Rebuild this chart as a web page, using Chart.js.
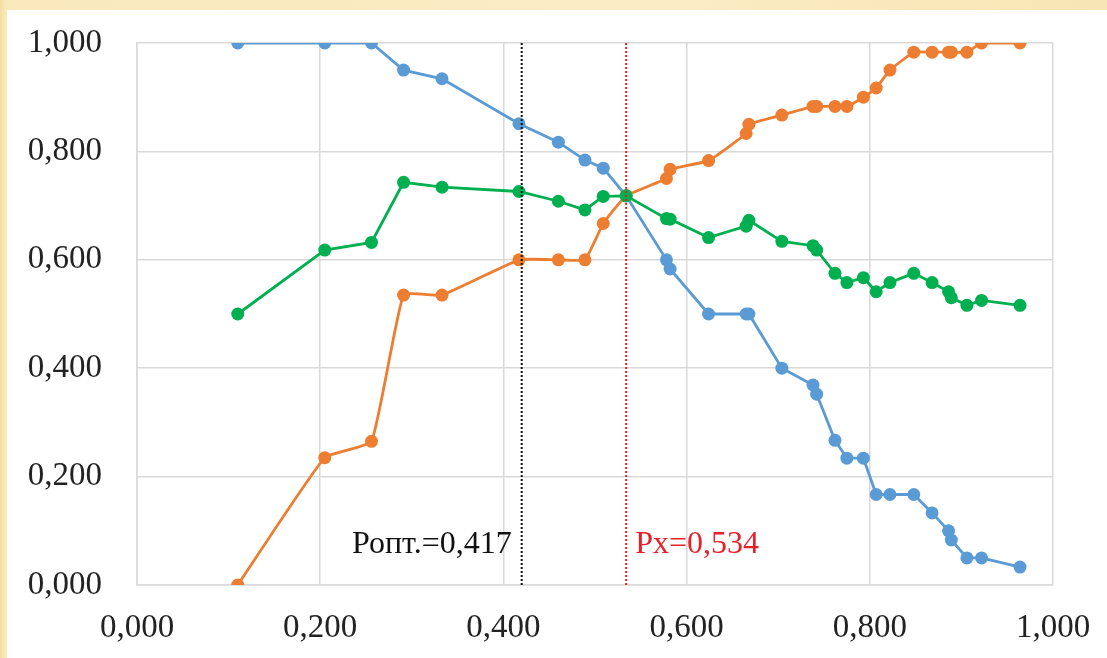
<!DOCTYPE html>
<html>
<head>
<meta charset="utf-8">
<script src="https://cdn.jsdelivr.net/npm/chart.js@4"></script>
<style>
    html, body { margin: 0; padding: 0; }
    body {
        width: 1107px;
        height: 658px;
        position: relative;
        overflow: hidden;
        background: linear-gradient(90deg, #f3dc9c 0px, #f9e9bd 5px, #fbecc4 60%, #f8e5b4 100%);
    }
    #paper { position: absolute; left: 7px; top: 10px; right: 0; bottom: 0; background: #fff; }
    #myChart { position: absolute; left: 0; top: 0; }
</style>
</head>
<body>
<div id="paper"></div>
<canvas id="myChart" width="1107" height="658"></canvas>
<script>
const xValues = [0.110, 0.205, 0.256, 0.291, 0.333, 0.417, 0.460, 0.489, 0.509, 0.534,
    0.578, 0.582, 0.624, 0.665, 0.668, 0.704, 0.738, 0.742, 0.762, 0.775,
    0.793, 0.807, 0.822, 0.848, 0.868, 0.886, 0.889, 0.906, 0.922, 0.964];

const blueValues = [1.000, 1.000, 1.000, 0.950, 0.934, 0.851, 0.817, 0.784, 0.769, 0.718,
    0.600, 0.583, 0.500, 0.500, 0.500, 0.400, 0.369, 0.352, 0.267, 0.234,
    0.234, 0.167, 0.167, 0.167, 0.133, 0.100, 0.083, 0.050, 0.050, 0.033];

const orangeValues = [0.000, 0.235, 0.265, 0.535, 0.535, 0.600, 0.600, 0.600, 0.667, 0.718,
    0.750, 0.767, 0.783, 0.833, 0.850, 0.867, 0.883, 0.883, 0.883, 0.883,
    0.900, 0.917, 0.950, 0.983, 0.983, 0.983, 0.983, 0.983, 1.000, 1.000];

const greenValues = [0.500, 0.618, 0.632, 0.743, 0.734, 0.726, 0.708, 0.692, 0.717, 0.718,
    0.676, 0.675, 0.641, 0.662, 0.673, 0.634, 0.626, 0.618, 0.575, 0.558,
    0.567, 0.541, 0.558, 0.575, 0.558, 0.541, 0.530, 0.516, 0.525, 0.516];

const axisTicks = [0, 0.2, 0.4, 0.6, 0.8, 1.0];

const pOpt = 0.420;
const pOptLabel = 'Ропт.=0,417';
const pX = 0.534;
const pXLabel = 'Рх=0,534';

const fontFamily = '"Liberation Serif", "Times New Roman", serif';

function toPoints(ys) {
    return xValues.map((x, i) => ({ x: x, y: ys[i] }));
}

function fmt(v) {
    return Number(v).toFixed(3).replace('.', ',');
}

// vertical dotted lines with their captions
const markerLines = {
    id: 'markerLines',
    afterDatasetsDraw(chart) {
        const ctx = chart.ctx;
        const area = chart.chartArea;
        const xs = chart.scales.x;
        const ys = chart.scales.y;
        const lines = [
            { v: pOpt, color: '#111111', text: pOptLabel, align: 'right', dx: -10 },
            { v: pX, color: '#e8202a', text: pXLabel, align: 'left', dx: 9 }
        ];
        ctx.save();
        lines.forEach(l => {
            const px = xs.getPixelForValue(l.v);
            ctx.beginPath();
            ctx.setLineDash([2, 2]);
            ctx.lineWidth = 2;
            ctx.strokeStyle = l.color;
            ctx.moveTo(px, area.top);
            ctx.lineTo(px, area.bottom);
            ctx.stroke();

            ctx.setLineDash([]);
            ctx.fillStyle = l.color;
            ctx.font = '32px ' + fontFamily;
            ctx.textAlign = l.align;
            ctx.textBaseline = 'middle';
            ctx.fillText(l.text, px + l.dx, ys.getPixelForValue(0.075));
        });
        ctx.restore();
    }
};

function makeDataset(values, color, order, tension) {
    return {
        data: toPoints(values),
        borderColor: color,
        backgroundColor: color,
        borderWidth: 2.8,
        pointRadius: 6.5,
        pointBorderWidth: 0,
        pointHoverRadius: 6.5,
        showLine: true,
        tension: tension,
        order: order
    };
}

const ctx = document.getElementById('myChart').getContext('2d');
const myChart = new Chart(ctx, {
    type: 'scatter',
    data: {
        datasets: [
            makeDataset(blueValues, '#5b9bd5', 2, 0),
            makeDataset(orangeValues, '#ed7d31', 1, 0.12),
            makeDataset(greenValues, '#00b050', 0, 0)
        ]
    },
    options: {
        responsive: false,
        devicePixelRatio: 1,
        animation: false,
        layout: { padding: { top: 43, right: 54, left: 0, bottom: 0 } },
        plugins: {
            legend: { display: false },
            tooltip: { enabled: false }
        },
        scales: {
            x: {
                type: 'linear',
                min: 0,
                max: 1,
                afterBuildTicks: axis => { axis.ticks = axisTicks.map(v => ({ value: v })); },
                afterFit: axis => { axis.height = 73; },
                grid: { color: '#d9d9d9', lineWidth: 1.5, tickLength: 21, tickColor: 'rgba(0,0,0,0)' },
                border: { color: '#d9d9d9', width: 1.5 },
                ticks: {
                    color: '#222',
                    padding: 3,
                    maxRotation: 0,
                    font: { family: fontFamily, size: 33 },
                    callback: v => fmt(v)
                }
            },
            y: {
                type: 'linear',
                min: 0,
                max: 1,
                afterBuildTicks: axis => { axis.ticks = axisTicks.map(v => ({ value: v })); },
                afterFit: axis => { axis.width = 137; },
                grid: { color: '#d9d9d9', lineWidth: 1.5, tickLength: 32, tickColor: 'rgba(0,0,0,0)' },
                border: { color: '#d9d9d9', width: 1.5 },
                ticks: {
                    color: '#222',
                    padding: 3,
                    font: { family: fontFamily, size: 33 },
                    callback: v => fmt(v)
                }
            }
        }
    },
    plugins: [markerLines]
});
</script>
</body>
</html>
